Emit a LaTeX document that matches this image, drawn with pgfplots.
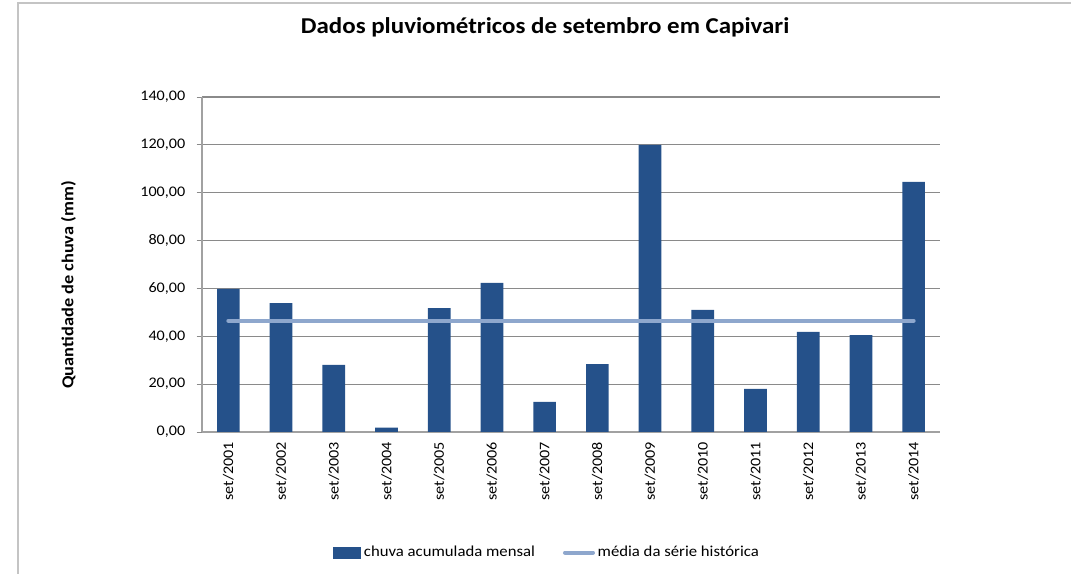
\documentclass[border=0pt]{standalone}
\usepackage{pgfplots}
\pgfplotsset{compat=1.18}
\usepackage{fontspec}
\setmainfont{Carlito}[FakeStretch=1.1]
\definecolor{barcol}{HTML}{25518A}
\definecolor{meancol}{HTML}{8EA7CD}
\definecolor{gridcol}{HTML}{8A8A8A}
\definecolor{framecol}{HTML}{C4C4C4}
\begin{document}
\begin{tikzpicture}
\path[use as bounding box] (0,0) rectangle (803.25pt,430.5pt);
\draw[framecol, line width=1.5pt] (13.5pt,0) -- (13.5pt,428.25pt) -- (803.25pt,428.25pt);
\begin{axis}[
  at={(151.5pt,106.5pt)}, anchor=south west,
  scale only axis, width=553.5pt, height=251.25pt,
  xmin=-0.5, xmax=13.5, ymin=0, ymax=140,
  axis x line*=bottom, axis y line*=left,
  axis line style={gridcol!80, line width=0.8pt},
  xtick={0,...,13},
  xticklabels={set/2001,set/2002,set/2003,set/2004,set/2005,set/2006,set/2007,set/2008,set/2009,set/2010,set/2011,set/2012,set/2013,set/2014},
  x tick label style={rotate=90, anchor=east, font=\fontsize{11}{13}\selectfont},
  xtick style={draw=none},
  ytick={0,20,...,140},
  y tick label style={font=\fontsize{11}{12}\selectfont, xshift=-5pt},
  yticklabel style={/pgf/number format/.cd, fixed, fixed zerofill, precision=2, use comma, assume math mode=true},
  scaled y ticks=false,
  ytick style={gridcol, line width=0.6pt}, tick align=outside, major tick length=4pt,
  ymajorgrids, grid style={gridcol, line width=0.8pt},
  title={\bfseries Dados pluviométricos de setembro em Capivari},
  title style={font=\fontsize{17}{19}\selectfont, at={(axis description cs:0.465,1.185)}, anchor=center},
  ylabel={\bfseries Quantidade de chuva (mm)},
  ylabel style={font=\fontsize{12.5}{14}\selectfont, at={(axis description cs:-0.181,0.439)}, anchor=center, rotate=0},
  legend style={at={(axis description cs:0.468,-0.36)}, anchor=center, draw=none, legend columns=2, font=\fontsize{11.4}{13}\selectfont, /tikz/every even column/.append style={column sep=19pt}},
]
\addplot[ybar, bar width=17pt, fill=barcol, draw=none,
  legend image code/.code={\fill[barcol] (0pt,-4.5pt) rectangle (21pt,4.5pt);}] coordinates {
(0,59.8) (1,53.9) (2,28.0) (3,1.8) (4,51.8) (5,62.3) (6,12.6) (7,28.4) (8,120.0) (9,51.0) (10,18.0) (11,41.8) (12,40.5) (13,104.5)
};
\addlegendentry{chuva acumulada mensal}
\addplot[meancol, line width=3pt, line cap=round, mark=none,
  legend image code/.code={\draw[meancol, line width=3pt, line cap=round] (0pt,0pt) -- (21pt,0pt);}] coordinates {(0,46.5) (13,46.5)};
\addlegendentry{média da série histórica}
\end{axis}
\end{tikzpicture}
\end{document}
